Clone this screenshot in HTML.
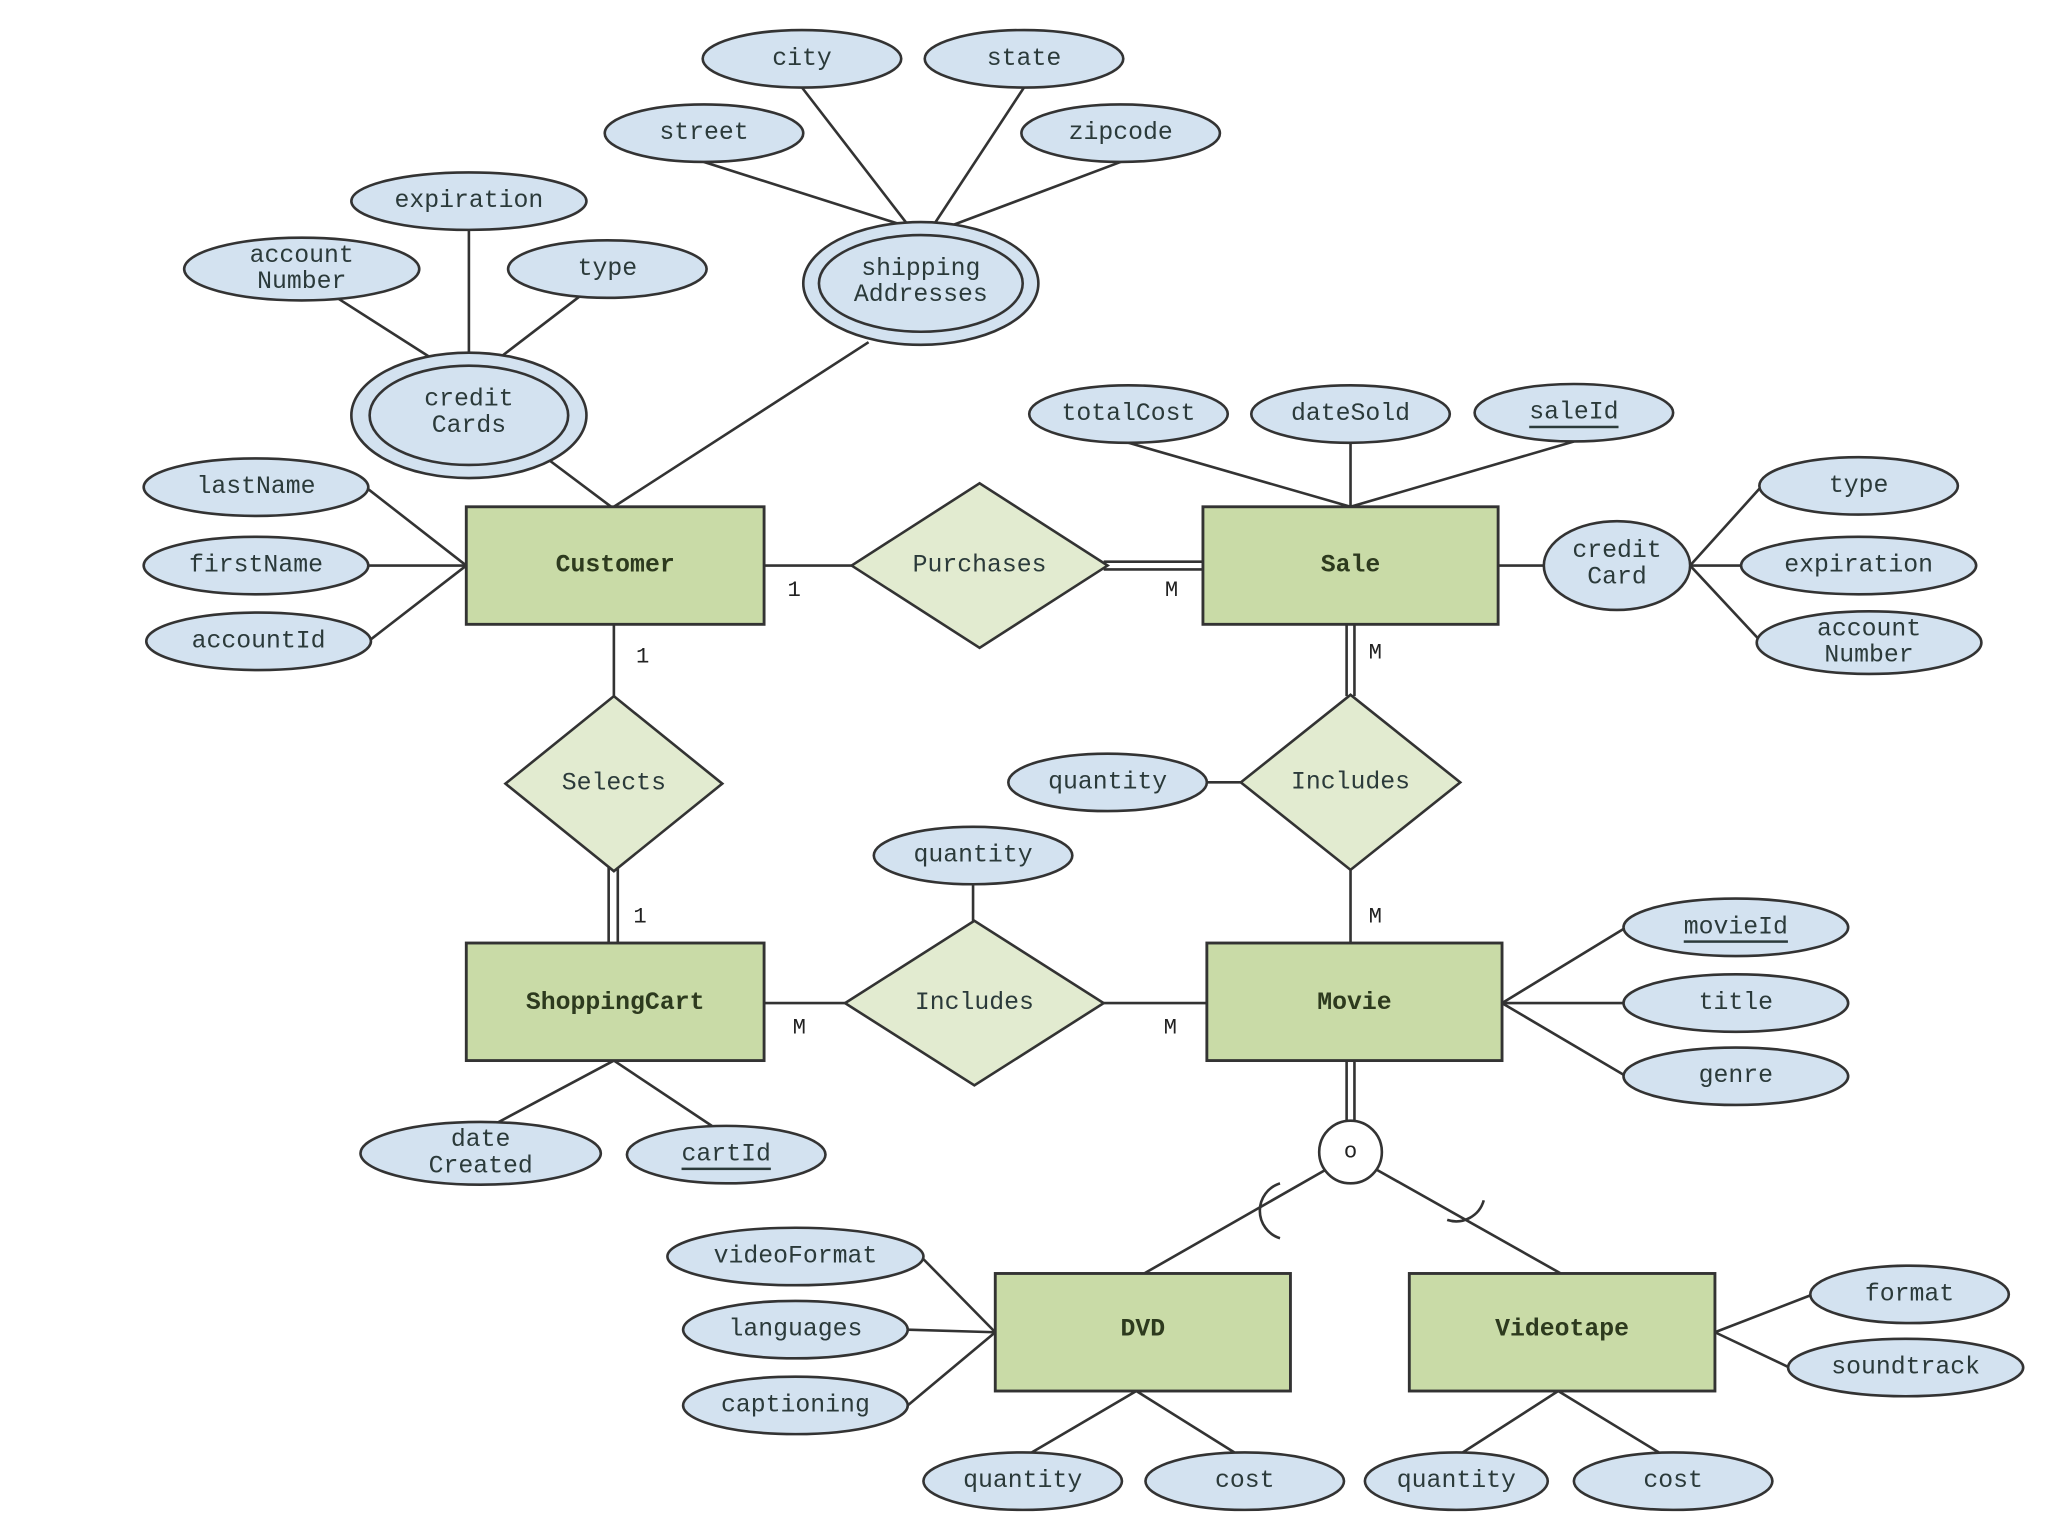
<!DOCTYPE html>
<html><head><meta charset="utf-8"><style>
html,body{margin:0;padding:0;background:#fff;}
svg{display:block;}
text{font-family:"Liberation Mono",monospace;font-size:19px;fill:#2b3a3a;text-anchor:middle;dominant-baseline:central;}
.e{fill:#d3e2f0;stroke:#333;stroke-width:2;}
.r{fill:#c9dba7;stroke:#333;stroke-width:2.2;}
.d{fill:#e2ebd0;stroke:#333;stroke-width:2;}
.l{stroke:#333;stroke-width:2;fill:none;}
.b{font-weight:bold;fill:#2d3a1e;}
.c{font-size:17px;fill:#222;}
</style></head><body>
<svg width="2048" height="1536" viewBox="0 0 1568 1176" xmlns="http://www.w3.org/2000/svg">
<g class="l">
<!-- shipping -->
<line x1="614" y1="67" x2="695" y2="172"/><line x1="784" y1="67" x2="715" y2="172"/>
<line x1="539" y1="124" x2="690" y2="172"/><line x1="858" y1="124" x2="725" y2="174"/>
<line x1="665" y1="262" x2="470" y2="388"/>
<!-- credit cards -->
<line x1="359" y1="176" x2="359" y2="272"/><line x1="258" y1="228" x2="330" y2="274"/><line x1="445" y1="226" x2="385" y2="272"/>
<line x1="420" y1="352" x2="468" y2="388"/>
<!-- customer attrs -->
<line x1="280" y1="373" x2="357" y2="433"/><line x1="282" y1="433" x2="357" y2="433"/><line x1="282" y1="491" x2="357" y2="433"/>
<!-- sale attrs -->
<line x1="864" y1="339" x2="1034" y2="388"/><line x1="1034" y1="339" x2="1034" y2="388"/><line x1="1205" y1="338" x2="1034" y2="388"/>
<line x1="1147" y1="433" x2="1182" y2="433"/>
<line x1="1294" y1="433" x2="1349" y2="372"/><line x1="1294" y1="433" x2="1333" y2="433"/><line x1="1294" y1="433" x2="1349" y2="492"/>
<!-- relations -->
<line x1="585" y1="433" x2="652" y2="433"/>
<line x1="845" y1="430" x2="921" y2="430"/><line x1="845" y1="436" x2="921" y2="436"/>
<line x1="1031" y1="478" x2="1031" y2="533"/><line x1="1037" y1="478" x2="1037" y2="533"/>
<line x1="1034" y1="666" x2="1034" y2="722"/>
<line x1="924" y1="599" x2="950" y2="599"/>
<line x1="470" y1="478" x2="470" y2="533"/>
<line x1="466" y1="664" x2="466" y2="722"/><line x1="473" y1="664" x2="473" y2="722"/>
<line x1="585" y1="768" x2="647" y2="768"/><line x1="845" y1="768" x2="924" y2="768"/>
<line x1="745" y1="677" x2="745" y2="705"/>
<!-- movie attrs -->
<line x1="1150" y1="768" x2="1245" y2="710"/><line x1="1150" y1="768" x2="1243" y2="768"/><line x1="1150" y1="768" x2="1245" y2="824"/>
<!-- shopping cart attrs -->
<line x1="470" y1="812" x2="380" y2="860"/><line x1="470" y1="812" x2="545" y2="862"/>
<!-- ISA -->
<line x1="1031" y1="812" x2="1031" y2="859"/><line x1="1037" y1="812" x2="1037" y2="859"/>
<line x1="1016" y1="895" x2="876" y2="975"/><line x1="1053" y1="895" x2="1195" y2="975"/>
<path d="M980,906 A22,22 0 0 0 980,948"/>
<path d="M1108,934 A22,22 0 0 0 1136,919"/>
<!-- DVD attrs -->
<line x1="705" y1="962" x2="762" y2="1020"/><line x1="695" y1="1018" x2="762" y2="1020"/><line x1="695" y1="1076" x2="762" y2="1020"/>
<line x1="870" y1="1065" x2="790" y2="1112"/><line x1="870" y1="1065" x2="945" y2="1112"/>
<line x1="1193" y1="1065" x2="1120" y2="1112"/><line x1="1193" y1="1065" x2="1270" y2="1112"/>
<line x1="1313" y1="1020" x2="1388" y2="991"/><line x1="1313" y1="1020" x2="1370" y2="1047"/>
</g>
<!-- ellipses -->
<g>
<ellipse class="e" cx="614" cy="45" rx="76" ry="22"/><text x="614" y="45">city</text>
<ellipse class="e" cx="784" cy="45" rx="76" ry="22"/><text x="784" y="45">state</text>
<ellipse class="e" cx="539" cy="102" rx="76" ry="22"/><text x="539" y="102">street</text>
<ellipse class="e" cx="858" cy="102" rx="76" ry="22"/><text x="858" y="102">zipcode</text>
<ellipse class="e" cx="705" cy="217" rx="90" ry="47"/><ellipse class="e" cx="705" cy="217" rx="78" ry="37"/>
<text x="705" y="206">shipping</text><text x="705" y="226">Addresses</text>
<ellipse class="e" cx="359" cy="154" rx="90" ry="22"/><text x="359" y="154">expiration</text>
<ellipse class="e" cx="231" cy="206" rx="90" ry="24"/><text x="231" y="196">account</text><text x="231" y="216">Number</text>
<ellipse class="e" cx="465" cy="206" rx="76" ry="22"/><text x="465" y="206">type</text>
<ellipse class="e" cx="359" cy="318" rx="90" ry="48"/><ellipse class="e" cx="359" cy="318" rx="76" ry="38"/>
<text x="359" y="306">credit</text><text x="359" y="326">Cards</text>
<ellipse class="e" cx="196" cy="373" rx="86" ry="22"/><text x="196" y="373">lastName</text>
<ellipse class="e" cx="196" cy="433" rx="86" ry="22"/><text x="196" y="433">firstName</text>
<ellipse class="e" cx="198" cy="491" rx="86" ry="22"/><text x="198" y="491">accountId</text>
<ellipse class="e" cx="864" cy="317" rx="76" ry="22"/><text x="864" y="317">totalCost</text>
<ellipse class="e" cx="1034" cy="317" rx="76" ry="22"/><text x="1034" y="317">dateSold</text>
<ellipse class="e" cx="1205" cy="316" rx="76" ry="22"/><text x="1205" y="316" text-decoration="underline">saleId</text>
<ellipse class="e" cx="1238" cy="433" rx="56" ry="34"/><text x="1238" y="422">credit</text><text x="1238" y="442">Card</text>
<ellipse class="e" cx="1423" cy="372" rx="76" ry="22"/><text x="1423" y="372">type</text>
<ellipse class="e" cx="1423" cy="433" rx="90" ry="22"/><text x="1423" y="433">expiration</text>
<ellipse class="e" cx="1431" cy="492" rx="86" ry="24"/><text x="1431" y="482">account</text><text x="1431" y="502">Number</text>
<ellipse class="e" cx="848" cy="599" rx="76" ry="22"/><text x="848" y="599">quantity</text>
<ellipse class="e" cx="745" cy="655" rx="76" ry="22"/><text x="745" y="655">quantity</text>
<ellipse class="e" cx="1329" cy="710" rx="86" ry="22"/><text x="1329" y="710" text-decoration="underline">movieId</text>
<ellipse class="e" cx="1329" cy="768" rx="86" ry="22"/><text x="1329" y="768">title</text>
<ellipse class="e" cx="1329" cy="824" rx="86" ry="22"/><text x="1329" y="824">genre</text>
<ellipse class="e" cx="368" cy="883" rx="92" ry="24"/><text x="368" y="873">date</text><text x="368" y="893">Created</text>
<ellipse class="e" cx="556" cy="884" rx="76" ry="22"/><text x="556" y="884" text-decoration="underline">cartId</text>
<ellipse class="e" cx="609" cy="962" rx="98" ry="22"/><text x="609" y="962">videoFormat</text>
<ellipse class="e" cx="609" cy="1018" rx="86" ry="22"/><text x="609" y="1018">languages</text>
<ellipse class="e" cx="609" cy="1076" rx="86" ry="22"/><text x="609" y="1076">captioning</text>
<ellipse class="e" cx="783" cy="1134" rx="76" ry="22"/><text x="783" y="1134">quantity</text>
<ellipse class="e" cx="953" cy="1134" rx="76" ry="22"/><text x="953" y="1134">cost</text>
<ellipse class="e" cx="1115" cy="1134" rx="70" ry="22"/><text x="1115" y="1134">quantity</text>
<ellipse class="e" cx="1281" cy="1134" rx="76" ry="22"/><text x="1281" y="1134">cost</text>
<ellipse class="e" cx="1462" cy="991" rx="76" ry="22"/><text x="1462" y="991">format</text>
<ellipse class="e" cx="1459" cy="1047" rx="90" ry="22"/><text x="1459" y="1047">soundtrack</text>
</g>
<!-- entities -->
<rect class="r" x="357" y="388" width="228" height="90"/><text class="b" x="471" y="433">Customer</text>
<rect class="r" x="921" y="388" width="226" height="90"/><text class="b" x="1034" y="433">Sale</text>
<rect class="r" x="357" y="722" width="228" height="90"/><text class="b" x="471" y="768">ShoppingCart</text>
<rect class="r" x="924" y="722" width="226" height="90"/><text class="b" x="1037" y="768">Movie</text>
<rect class="r" x="762" y="975" width="226" height="90"/><text class="b" x="875" y="1018">DVD</text>
<rect class="r" x="1079" y="975" width="234" height="90"/><text class="b" x="1196" y="1018">Videotape</text>
<!-- relationships -->
<polygon class="d" points="652,433 750,370 848,433 750,496"/><text x="750" y="433">Purchases</text>
<polygon class="d" points="387,600 470,533 553,600 470,667"/><text x="470" y="600">Selects</text>
<polygon class="d" points="950,599 1034,532 1118,599 1034,666"/><text x="1034" y="599">Includes</text>
<polygon class="d" points="647,768 746,705 845,768 746,831"/><text x="746" y="768">Includes</text>
<circle cx="1034" cy="882" r="24" fill="#fff" stroke="#333" stroke-width="2"/><text x="1034" y="882" class="c">o</text>
<!-- cardinalities -->
<text class="c" x="608" y="452">1</text><text class="c" x="897" y="452">M</text>
<text class="c" x="1053" y="500">M</text><text class="c" x="492" y="503">1</text>
<text class="c" x="1053" y="702">M</text><text class="c" x="490" y="702">1</text>
<text class="c" x="612" y="787">M</text><text class="c" x="896" y="787">M</text>
</svg>
</body></html>
